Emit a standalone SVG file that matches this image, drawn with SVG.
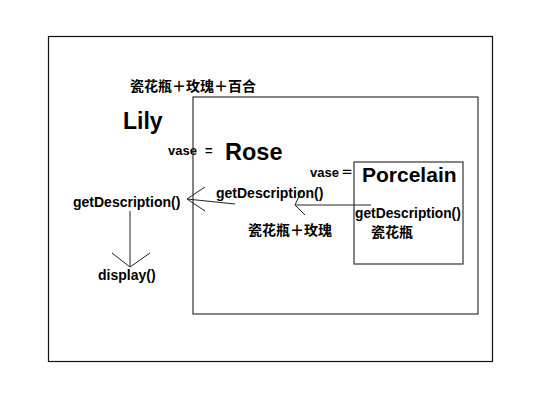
<svg xmlns="http://www.w3.org/2000/svg" width="534" height="400" viewBox="0 0 534 400">
<style>
.t{font-family:"Liberation Sans",Arial,"Noto Sans CJK SC",sans-serif;font-weight:bold;fill:#000}
.s{font-size:14px}
.v{font-size:13px}
.c{font-family:"Noto Sans CJK SC","Liberation Sans",sans-serif;font-weight:bold;font-size:14px;fill:#000}
.box{fill:none;stroke:#333;stroke-width:1.2}
.ln{fill:none;stroke:#222;stroke-width:1}
</style>
<rect width="534" height="400" fill="#fff"/>
<g id="outer">
<rect class="box" x="48.5" y="36.5" width="444" height="325" style="stroke:#111"/>
<text class="c" x="130" y="91">瓷花瓶＋玫瑰＋百合</text>
<text class="t" x="123" y="129" style="font-size:23px">Lily</text>
<text class="t v" x="168" y="155">vase</text>
<text class="t v" x="205" y="155">=</text>
<text class="t s" x="73" y="207">getDescription()</text>
<text class="t s" x="98" y="280">display()</text>
</g>
<g id="rose">
<rect class="box" x="193" y="97" width="285" height="217"/>
<text class="t" x="225" y="160" style="font-size:23.5px">Rose</text>
<text class="t v" x="310" y="177">vase</text>
<text class="c" x="341" y="177" style="font-size:12px">＝</text>
<text class="t s" x="216" y="198">getDescription()</text>
<text class="c" x="248" y="235">瓷花瓶＋玫瑰</text>
</g>
<g id="porcelain">
<rect class="box" x="354" y="162" width="109" height="102"/>
<text class="t" x="362" y="182" style="font-size:21px">Porcelain</text>
<text class="t s" x="355" y="218" style="font-size:13.8px">getDescription()</text>
<text class="c" x="371" y="237">瓷花瓶</text>
</g>
<g id="connectors">
<path class="ln" d="M235 204 L187 199 M205 187 L187 199 L205 211"/>
<path class="ln" d="M371 205 L295 205 M301 192 L295 205 L305 215"/>
<path class="ln" d="M130 211 L130 267 M112 253 L130 267 L150 253"/>
</g>
</svg>
